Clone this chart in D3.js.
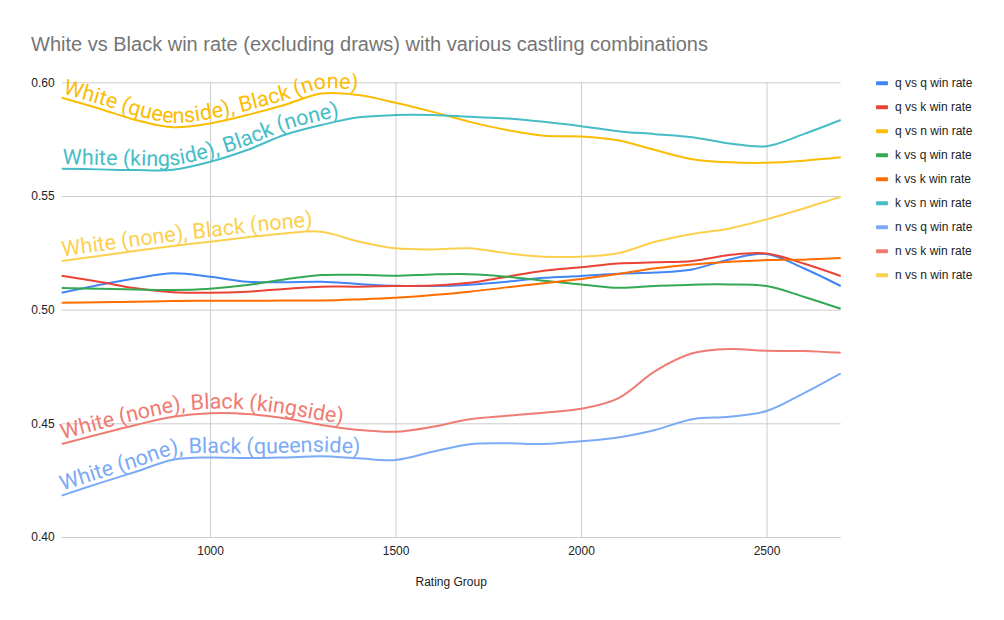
<!DOCTYPE html>
<html><head><meta charset="utf-8">
<script src="https://cdn.jsdelivr.net/npm/d3@7"></script>
<style>body{margin:0;background:#fff}svg{display:block}</style>
</head><body>
<svg id="c" width="1004" height="620"></svg>
<script>
const ratings = [600,700,800,900,1000,1100,1200,1300,1400,1500,1600,1700,1800,1900,2000,2100,2200,2300,2400,2500,2600,2700];
const seriesNames = ["q vs q win rate","q vs k win rate","q vs n win rate","k vs q win rate","k vs k win rate","k vs n win rate","n vs q win rate","n vs k win rate","n vs n win rate"];
const colors = ["#4285f4","#ea4335","#fbbc04","#34a853","#ff6d01","#46bdc6","#7baaf7","#f07b72","#fcd04f"];
const qq = [.5074,.5108,.5138,.5160,.5145,.5123,.5121,.5123,.5113,.5105,.5104,.5110,.5123,.5140,.5148,.5158,.5163,.5177,.5221,.5245,.5182,.5104];
const qk = [.5149,.5123,.5094,.5077,.5074,.5079,.5091,.5101,.5101,.5104,.5106,.5118,.5145,.5171,.5186,.5203,.5208,.5214,.5240,.5247,.5203,.5148];
const qn = [.5932,.5885,.5834,.5802,.5819,.5856,.5900,.5951,.5944,.5910,.5870,.5826,.5790,.5765,.5762,.5745,.5702,.5662,.5648,.5646,.5655,.5670];
const kq = [.5095,.5092,.5089,.5086,.5092,.5108,.5133,.5152,.5153,.5149,.5155,.5156,.5145,.5127,.5111,.5096,.5104,.5110,.5111,.5104,.5057,.5004];
const kk = [.5030,.5033,.5035,.5038,.5039,.5039,.5040,.5040,.5045,.5052,.5064,.5079,.5098,.5116,.5135,.5157,.5182,.5199,.5211,.5218,.5220,.5227];
const kn = [.5620,.5617,.5614,.5615,.5650,.5702,.5768,.5812,.5846,.5856,.5856,.5848,.5841,.5826,.5807,.5785,.5772,.5758,.5731,.5719,.5772,.5834];
const nq = [.4182,.4236,.4287,.4340,.4350,.4347,.4350,.4355,.4346,.4339,.4375,.4408,.4412,.4409,.4421,.4438,.4471,.4518,.4529,.4554,.4632,.4720];
const nk = [.4409,.4452,.4493,.4529,.4544,.4541,.4522,.4493,.4471,.4463,.4485,.4518,.4533,.4547,.4564,.4610,.4730,.4808,.4827,.4819,.4818,.4810];
const nn = [.5214,.5236,.5259,.5280,.5299,.5318,.5335,.5343,.5300,.5270,.5265,.5270,.5248,.5233,.5233,.5248,.5299,.5333,.5357,.5397,.5445,.5496];
const seriesValues = [qq,qk,qn,kq,kk,kn,nq,nk,nn];
const labelSeries = [2,5,8,7,6];
const labelTexts = ["White (queenside), Black (none)","White (kingside), Black (none)","White (none), Black (none)","White (none), Black (kingside)","White (none), Black (queenside)"];
const yTicks = [0.40,0.45,0.50,0.55,0.60];
const xTicks = [1000,1500,2000,2500];
const title = "White vs Black win rate (excluding draws) with various castling combinations";
const xTitle = "Rating Group";

const svg = d3.select("#c");
const L = 61.7, R = 840.7, T = 82.3, B = 537;
const x = d3.scaleLinear().domain([600,2700]).range([L,R]);
const y = d3.scaleLinear().domain([0.40,0.60]).range([B,T]);

svg.append("text").attr("x",31).attr("y",51).attr("font-family","Liberation Sans, Arial, sans-serif")
  .attr("font-size",20).attr("fill","#757575").text(title);

// grid + axes
const gy = svg.append("g").attr("transform",`translate(${L},0)`)
  .call(d3.axisLeft(y).tickValues(yTicks).tickFormat(d3.format(".2f")).tickSize(-(R-L)).tickPadding(7));
gy.select(".domain").remove();
gy.selectAll("line").attr("stroke","#cccccc");
gy.selectAll("text").attr("font-family","Liberation Sans, Arial, sans-serif").attr("font-size",12).attr("fill","#222");

const gx = svg.append("g").attr("transform",`translate(0,${B})`)
  .call(d3.axisBottom(x).tickValues(xTicks).tickFormat(d3.format("d")).tickSize(-(B-T)).tickPadding(9));
gx.select(".domain").remove();
gx.selectAll("line").attr("stroke","#cccccc");
gx.selectAll("text").attr("font-family","Liberation Sans, Arial, sans-serif").attr("font-size",12).attr("fill","#222");

svg.append("text").attr("x",(L+R)/2).attr("y",586).attr("text-anchor","middle")
  .attr("font-family","Liberation Sans, Arial, sans-serif").attr("font-size",12).attr("fill","#222").text(xTitle);

const curve = d3.curveCatmullRom.alpha(0.5);
const line = d3.line().x((d,i)=>x(ratings[i])).y(d=>y(d)).curve(curve);
const g = svg.append("g");
seriesValues.forEach((vals,i)=>{
  g.append("path").attr("d",line(vals)).attr("fill","none").attr("stroke",colors[i]).attr("stroke-width",2);
});

// labels following curves
const lineOff = d3.line().x((d,i)=>x(ratings[i])).y(d=>y(d)-4.5).curve(curve);
labelSeries.forEach((si,k)=>{
  svg.append("path").attr("id","lp"+k).attr("d",lineOff(seriesValues[si])).attr("fill","none").attr("stroke","none");
  svg.append("text").attr("font-family","Roboto, sans-serif").attr("font-size",21.5).attr("fill",colors[si])
    .append("textPath").attr("href","#lp"+k).attr("startOffset",1).text(labelTexts[k]);
});

// legend
const lg = svg.append("g");
seriesNames.forEach((n,i)=>{
  const cy = 83.3 + 24*i;
  lg.append("rect").attr("x",876).attr("y",cy-2).attr("width",12).attr("height",4).attr("rx",1).attr("fill",colors[i]);
  lg.append("text").attr("x",895).attr("y",cy+4).attr("font-family","Liberation Sans, Arial, sans-serif")
    .attr("font-size",12).attr("fill","#222").text(n);
});
</script>
</body></html>
